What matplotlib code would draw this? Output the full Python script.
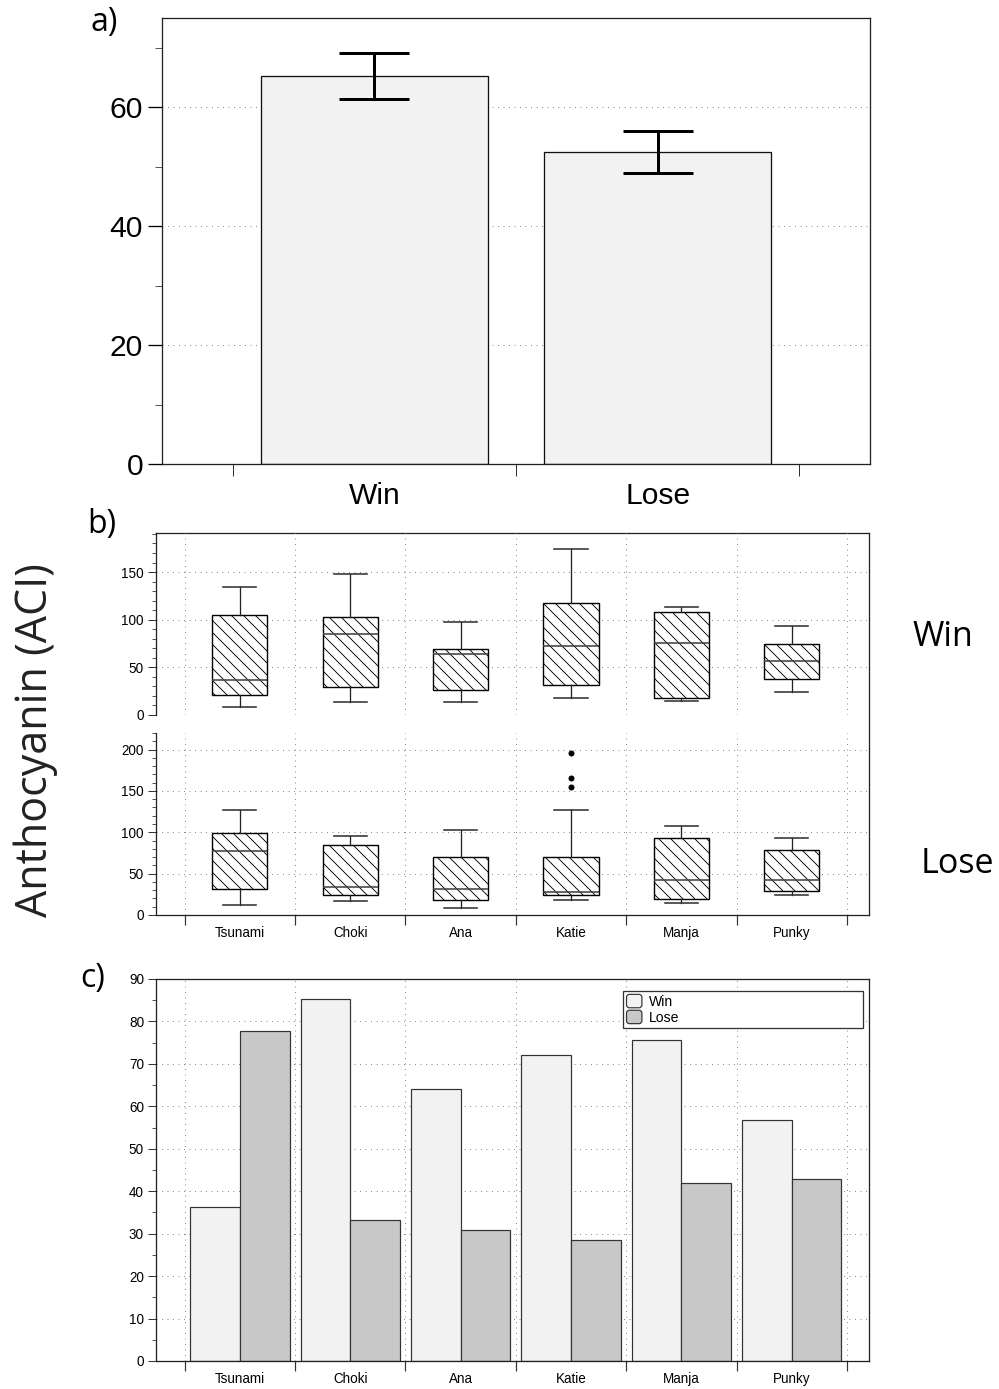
import numpy as np
import matplotlib
matplotlib.use('Agg')
import matplotlib.pyplot as plt
from matplotlib.ticker import MultipleLocator
from matplotlib.patches import Patch, FancyBboxPatch
from matplotlib.legend_handler import HandlerPatch

# ---- data ----
groups = ['Win', 'Lose']
group_mean = [65.3, 52.5]
group_err_hi = [69.1, 56.0]
group_err_lo = [61.4, 49.0]

dogs = ['Tsunami', 'Choki', 'Ana', 'Katie', 'Manja', 'Punky']

win_whislo = [8.1, 13.7, 13.3, 18.2, 14.7, 23.8]
win_q1 = [20.7, 29.4, 26.3, 31.8, 18.2, 37.8]
win_med = [36.3, 85.3, 64.2, 72.1, 75.6, 56.8]
win_q3 = [104.7, 103.3, 69.0, 117.3, 107.9, 74.9]
win_whishi = [134.5, 147.8, 97.4, 174.0, 113.4, 93.8]

lose_whislo = [11.7, 16.9, 8.5, 17.8, 14.9, 23.8]
lose_q1 = [31.9, 24.2, 18.2, 24.6, 19.7, 29.1]
lose_med = [77.7, 33.3, 30.9, 28.4, 41.9, 42.8]
lose_q3 = [99.6, 84.7, 70.6, 70.6, 92.8, 78.3]
lose_whishi = [126.7, 95.6, 102.5, 127.5, 107.7, 93.2]
lose_fliers = [[], [], [], [195.7, 166.2, 155.3], [], []]

# ---- figure ----
plt.rcParams['font.family'] = 'Liberation Sans'
plt.rcParams['hatch.linewidth'] = 0.9
W, H = 999, 1389
fig = plt.figure(figsize=(W / 72, H / 72), dpi=72)


def rect(l, t, r, b):
    return [l / W, 1 - b / H, (r - l) / W, (b - t) / H]


grid_kw = dict(color='#8a8a8a', linestyle=(0, (1, 4.5)), linewidth=1)
spine_col = '#222222'

# ---- panel a ----
ax = fig.add_axes(rect(162, 18, 870, 464))
xa = np.arange(len(groups))
ax.bar(xa, group_mean, 0.8, color='#f2f2f2', edgecolor='#111111', linewidth=1.3, zorder=2)
yerr = [np.array(group_mean) - np.array(group_err_lo), np.array(group_err_hi) - np.array(group_mean)]
ax.errorbar(xa, group_mean, yerr=yerr, fmt='none', ecolor='black', elinewidth=3,
            capsize=35, capthick=3, zorder=3)
ax.set_xlim(-0.75, 1.75)
ax.set_ylim(0, 75)
ax.set_yticks([0, 20, 40, 60])
ax.yaxis.set_minor_locator(MultipleLocator(10))
ax.set_xticks([-0.5, 0.5, 1.5])
ax.set_xticklabels([])
ax.set_xticks(xa, groups, minor=True)
ax.tick_params(axis='x', which='major', length=12, width=1, color='#333333', direction='out')
ax.tick_params(axis='x', which='minor', length=0, pad=18, labelsize=30)
ax.tick_params(axis='y', which='major', length=14, width=1.3, labelsize=30, pad=5)
ax.tick_params(axis='y', which='minor', length=7, width=1, color='#555555')
ax.yaxis.grid(True, **grid_kw)
ax.set_axisbelow(True)
for s in ax.spines.values():
    s.set_linewidth(1.3)
    s.set_color(spine_col)


# ---- panel b ----
def make_stats(lo, q1, med, q3, hi, fl=None):
    out = []
    for i in range(len(med)):
        out.append(dict(whislo=lo[i], q1=q1[i], med=med[i], q3=q3[i], whishi=hi[i],
                        fliers=fl[i] if fl else []))
    return out


xb = np.arange(len(dogs))
bounds = np.arange(-0.5, len(dogs), 1.0)

frame = fig.add_axes(rect(156, 533, 869, 915))
frame.set_xticks([])
frame.set_yticks([])
for k in ['left', 'bottom']:
    frame.spines[k].set_visible(False)
for k in ['top', 'right']:
    frame.spines[k].set_linewidth(1.3)
    frame.spines[k].set_color(spine_col)
frame.patch.set_alpha(0)

box_kw = dict(widths=0.5, capwidths=0.3, patch_artist=True,
              boxprops=dict(facecolor='white', edgecolor='black', linewidth=1.4, hatch='\\\\'),
              medianprops=dict(color='#444444', linewidth=1.6),
              whiskerprops=dict(color='#222222', linewidth=1.3),
              capprops=dict(color='#333333', linewidth=1.6),
              flierprops=dict(marker='o', markerfacecolor='black', markeredgecolor='black', markersize=5))

ax_w = fig.add_axes(rect(156, 533, 869, 715))
ax_l = fig.add_axes(rect(156, 733, 869, 915))
ax_w.bxp(make_stats(win_whislo, win_q1, win_med, win_q3, win_whishi), positions=xb, **box_kw)
ax_l.bxp(make_stats(lose_whislo, lose_q1, lose_med, lose_q3, lose_whishi, lose_fliers),
         positions=xb, **box_kw)
ax_w.set_ylim(0, 191)
ax_l.set_ylim(0, 220)
for a in [ax_w, ax_l]:
    a.patch.set_alpha(0)
    a.set_xlim(-0.76, 5.7)
    a.set_xticks(bounds)
    a.set_xticklabels([])
    a.set_yticks([0, 50, 100, 150] if a is ax_w else [0, 50, 100, 150, 200])
    a.yaxis.set_minor_locator(MultipleLocator(10))
    a.tick_params(axis='y', which='major', length=8, width=1, labelsize=13.5, pad=4, color='#333333')
    a.tick_params(axis='y', which='minor', length=4, width=1, color='#555555')
    a.grid(True, **grid_kw)
    a.set_axisbelow(True)
    for k in ['top', 'right']:
        a.spines[k].set_visible(False)
    a.spines['left'].set_linewidth(1.3)
    a.spines['left'].set_color(spine_col)
ax_w.spines['bottom'].set_visible(False)
ax_w.tick_params(axis='x', which='major', length=0)
ax_l.spines['bottom'].set_linewidth(1.3)
ax_l.spines['bottom'].set_color(spine_col)
ax_l.tick_params(axis='x', which='major', length=10, width=1.2, color='#333333')
ax_l.set_xticks(xb, dogs, minor=True)
ax_l.tick_params(axis='x', which='minor', length=0, pad=11, labelsize=13.5)

# ---- panel c ----
axc = fig.add_axes(rect(156, 979, 869, 1361))
bw = 0.45
axc.bar(xb - bw / 2, win_med, bw, color='#f2f2f2', edgecolor='#333333', linewidth=1.2, label='Win')
axc.bar(xb + bw / 2, lose_med, bw, color='#c8c8c8', edgecolor='#333333', linewidth=1.2, label='Lose')
axc.set_xlim(-0.76, 5.7)
axc.set_ylim(0, 90)
axc.set_yticks(np.arange(0, 91, 10))
axc.yaxis.set_minor_locator(MultipleLocator(5))
axc.set_xticks(bounds)
axc.set_xticklabels([])
axc.set_xticks(xb, dogs, minor=True)
axc.tick_params(axis='x', which='major', length=10, width=1.2, color='#333333')
axc.tick_params(axis='x', which='minor', length=0, pad=11, labelsize=13.5)
axc.tick_params(axis='y', which='major', length=8, width=1, labelsize=13.5, pad=4, color='#333333')
axc.tick_params(axis='y', which='minor', length=4, width=1, color='#555555')
axc.grid(True, **grid_kw)
axc.set_axisbelow(True)
for s in axc.spines.values():
    s.set_linewidth(1.3)
    s.set_color(spine_col)


def round_patch(legend, orig_handle, xdescent, ydescent, width, height, fontsize):
    return FancyBboxPatch((-xdescent, -ydescent), width, height,
                          boxstyle='round,pad=0,rounding_size=3')


handles = [Patch(facecolor='#f2f2f2', edgecolor='#333333', linewidth=1.2, label='Win'),
           Patch(facecolor='#c8c8c8', edgecolor='#333333', linewidth=1.2, label='Lose')]
leg = axc.legend(handles=handles, loc='upper left', bbox_to_anchor=(0.655, 0.969, 0.337, 0),
                 mode='expand', fontsize=14, handlelength=1.1, handleheight=1.1,
                 handletextpad=0.5, labelspacing=0.1, borderpad=0.25, borderaxespad=0,
                 fancybox=False, framealpha=1, edgecolor='#333333',
                 handler_map={Patch: HandlerPatch(patch_func=round_patch)})
leg.get_frame().set_linewidth(1.3)

# ---- text ----
lab_font = ['Open Sans', 'DejaVu Sans']
fig.text(91 / W, 1 - 22 / H, 'a)', fontsize=32, family=lab_font, va='center', ha='left')
fig.text(87 / W, 1 - 525 / H, 'b)', fontsize=32, family=lab_font, va='center', ha='left')
fig.text(80 / W, 1 - 978 / H, 'c)', fontsize=32, family=lab_font, va='center', ha='left')
fig.text(36 / W, 1 - 740 / H, 'Anthocyanin (ACI)', fontsize=43, family=lab_font,
         rotation=90, va='center', ha='center', color='#222222')
fig.text(943 / W, 1 - 637 / H, 'Win', fontsize=34, family=lab_font, va='center', ha='center')
fig.text(957 / W, 1 - 864 / H, 'Lose', fontsize=34, family=lab_font, va='center', ha='center')

fig.savefig('out.png', dpi=72)
